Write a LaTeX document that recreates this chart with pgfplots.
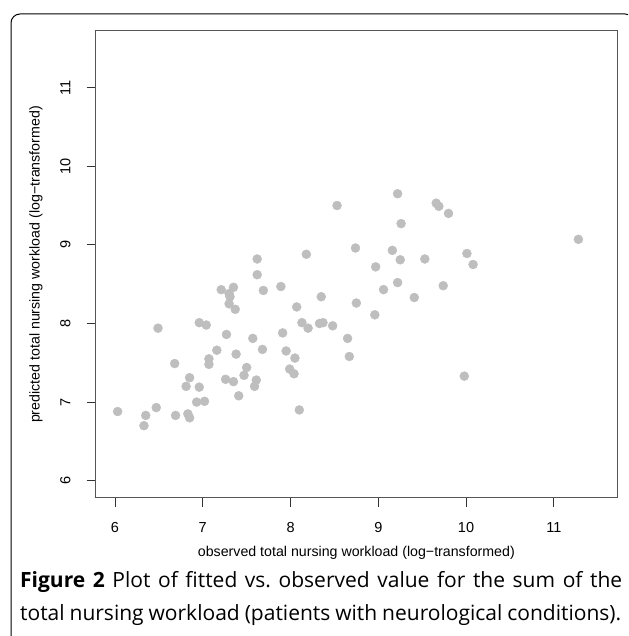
\documentclass[border=0pt]{standalone}
\usepackage{fontspec}
\setmainfont{Liberation Sans}
\newfontfamily\capfont{Open Sans}
\usepackage{graphicx}
\usepackage{pgfplots}
\pgfplotsset{compat=1.18}

\definecolor{rgray}{HTML}{BEBEBE}
\definecolor{boxgray}{HTML}{555555}

\begin{document}
\begin{tikzpicture}[x=1pt,y=1pt]
  % page and outer frame (628 x 636)
  \path[use as bounding box] (0,0) rectangle (628,636);
  \begin{scope}
    \clip (0,0) rectangle (628,636);
    \draw[black, line width=1pt, rounded corners=9pt] (11,-10) -- (11,622) -- (634,622) -- (634,-10);
  \end{scope}

  \begin{axis}[
      at={(95.7pt,138pt)}, anchor=south west,
      scale only axis,
      width=521.3pt, height=467pt,
      xmin=5.78, xmax=11.72,
      ymin=5.78, ymax=11.72,
      xtick={6,7,8,9,10,11},
      ytick={6,7,8,9,10,11},
      axis line style={boxgray, line width=1pt},
      tick style={black!80, line width=0.8pt},
      tick align=outside,
      major tick length=9pt,
      xtick pos=bottom, ytick pos=left,
      /pgf/number format/assume math mode=true,
      tick label style={font=\fontsize{14.5}{16}\selectfont},
      label style={font=\fontsize{14.2}{16}\selectfont},
      xticklabel style={anchor=north, inner sep=0pt, yshift=-15pt},
      yticklabel={\rotatebox{90}{\pgfmathprintnumber{\tick}}},
      yticklabel style={anchor=east, inner sep=0pt, xshift=-16pt},
      xlabel={observed total nursing workload (log\char"2212 transformed)},
      ylabel={predicted total nursing workload (log\char"2212 transformed)},
      xlabel style={at={(axis description cs:0.5,-0.1253)}, anchor=base, inner sep=0pt},
      ylabel style={at={(axis description cs:-0.1078,0.5)}, rotate=0, anchor=base, inner sep=0pt},
    ]
    \addplot[only marks, mark=*, mark size=4.5pt, color=rgray, mark options={draw=none, fill=rgray}] coordinates {
      (6.03,6.88) (6.35,6.83) (6.33,6.70) (6.47,6.93) (6.69,6.83)
      (6.83,6.85) (6.85,6.80) (6.93,7.00) (7.02,7.01) (6.81,7.20)
      (6.96,7.19) (6.85,7.31) (6.68,7.49) (6.49,7.94) (6.96,8.01)
      (7.04,7.98) (7.07,7.55) (7.07,7.48) (7.16,7.66) (7.27,7.86)
      (7.26,7.29) (7.35,7.26) (7.38,7.61) (7.41,7.08) (7.50,7.44)
      (7.47,7.34) (7.61,7.28) (7.59,7.20) (7.57,7.81) (7.68,7.67)
      (7.21,8.43) (7.35,8.46) (7.30,8.38) (7.31,8.34) (7.30,8.25)
      (7.37,8.18) (7.62,8.62) (7.62,8.82) (7.69,8.42) (7.89,8.47)
      (8.07,8.21) (7.91,7.88) (7.95,7.65) (8.05,7.56) (7.99,7.42)
      (8.04,7.36) (8.10,6.90) (8.13,8.01) (9.22,9.65) (8.53,9.50)
      (9.66,9.53) (9.69,9.49) (9.80,9.40) (9.26,9.27) (8.18,8.88)
      (8.74,8.96) (9.16,8.93) (9.25,8.81) (9.53,8.82) (10.01,8.89)
      (10.08,8.75) (8.97,8.72) (9.22,8.52) (9.06,8.43) (9.74,8.48)
      (9.41,8.33) (8.35,8.34) (8.75,8.26) (8.96,8.11) (8.20,7.94)
      (8.33,8.00) (8.37,8.01) (8.48,7.97) (8.65,7.81) (8.67,7.58)
      (9.98,7.33) (11.28,9.07)
    };
  \end{axis}

  % caption
  \node[anchor=base west, inner sep=0pt] at (20,48)
    {\capfont\fontsize{21}{24}\selectfont\makebox[602pt][s]{\textbf{Figure 2} Plot of fitted vs.\ observed value for the sum of the}};
  \node[anchor=base west, inner sep=0pt] at (20,16)
    {\capfont\fontsize{21}{24}\selectfont\makebox[601pt][s]{total nursing workload (patients with neurological conditions).}};
\end{tikzpicture}
\end{document}
